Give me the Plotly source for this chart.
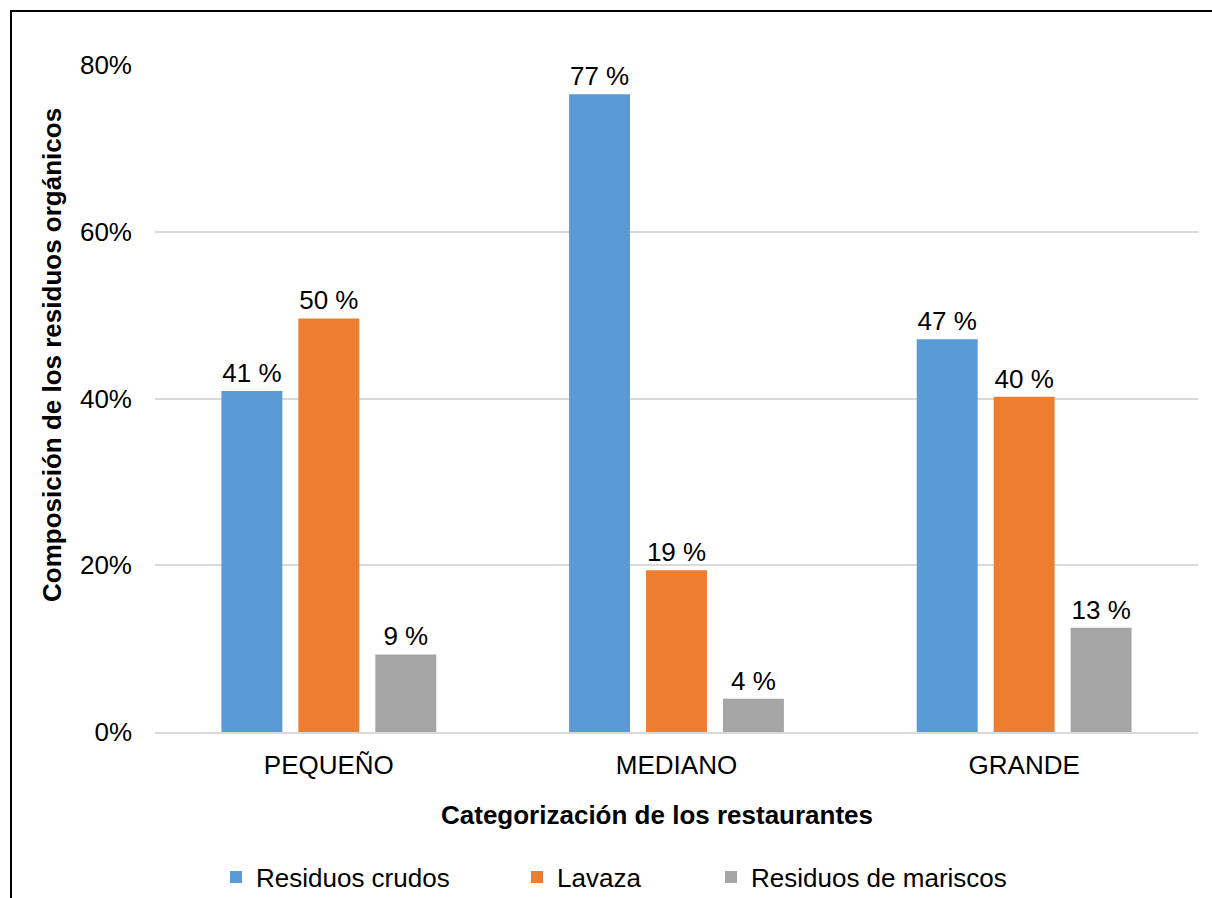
import plotly.graph_objects as go

# Restaurant size categories and composition of organic waste (%)
categorias = ["PEQUEÑO", "MEDIANO", "GRANDE"]
residuos_crudos = [40.9, 76.5, 47.1]
lavaza = [49.6, 19.4, 40.2]
residuos_mariscos = [9.3, 4.0, 12.5]

series = [
    ("Residuos crudos", residuos_crudos, "#5B9BD5"),
    ("Lavaza", lavaza, "#ED7D31"),
    ("Residuos de mariscos", residuos_mariscos, "#A5A5A5"),
]

y_ticks = [0, 20, 40, 60, 80]

W, H = 1212, 898
L, R, T, B = 155, 14, 65, 166
plot_w = W - L - R
plot_h = H - T - B
FONT = "Liberation Sans, Arial, sans-serif"
FS = 26


def px_x(px):
    return (px - L) / plot_w


def px_y(py):
    return (H - B - py) / plot_h


fig = go.Figure()
legend_keys = ["legend", "legend2", "legend3"]
legend_left_px = [216, 517, 711]

for (name, vals, color), lkey in zip(series, legend_keys):
    fig.add_trace(go.Bar(
        name=name,
        x=categorias,
        y=vals,
        marker=dict(color=color, line=dict(width=0)),
        texttemplate="%{y:.0f} %",
        textposition="outside",
        textfont=dict(family=FONT, size=FS, color="#000000"),
        cliponaxis=False,
        legend=lkey,
    ))

legend_common = dict(
    orientation="h",
    font=dict(family=FONT, size=FS, color="#000000"),
    bgcolor="rgba(0,0,0,0)",
    xanchor="left",
    yanchor="middle",
    y=px_y(877),
)

layout_legends = {}
for lkey, lx in zip(legend_keys, legend_left_px):
    layout_legends[lkey] = dict(legend_common, x=px_x(lx))

fig.update_layout(
    width=W,
    height=H,
    margin=dict(l=L, r=R, t=T, b=B, autoexpand=False),
    paper_bgcolor="#FFFFFF",
    plot_bgcolor="#FFFFFF",
    barmode="group",
    bargap=0.336,
    bargroupgap=0.208,
    showlegend=True,
    font=dict(family=FONT, size=FS, color="#000000"),
    xaxis=dict(
        showgrid=False,
        showline=True,
        linecolor="#D9D9D9",
        linewidth=2,
        ticks="",
        ticklabelstandoff=9,
        automargin=False,
        tickfont=dict(family=FONT, size=FS, color="#000000"),
    ),
    yaxis=dict(
        range=[0, 80],
        tickvals=y_ticks,
        ticktext=[f"{v}%" for v in y_ticks],
        showgrid=True,
        gridcolor="#D9D9D9",
        gridwidth=2,
        zeroline=False,
        showline=False,
        ticks="",
        ticklabelstandoff=22,
        automargin=False,
        tickfont=dict(family=FONT, size=FS, color="#000000"),
    ),
    annotations=[
        dict(
            text="<b>Composición de los residuos orgánicos</b>",
            xref="paper", yref="paper",
            x=px_x(52), y=px_y(355),
            textangle=-90, showarrow=False,
            xanchor="center", yanchor="middle",
            font=dict(family=FONT, size=FS, color="#000000"),
        ),
        dict(
            text="<b>Categorización de los restaurantes</b>",
            xref="paper", yref="paper",
            x=px_x(657), y=px_y(815),
            showarrow=False,
            xanchor="center", yanchor="middle",
            font=dict(family=FONT, size=FS, color="#000000"),
        ),
    ],
    shapes=[
        # outer frame (left and top edges)
        dict(type="line", xref="paper", yref="paper",
             x0=px_x(11), x1=px_x(11), y0=px_y(10), y1=px_y(H + 5),
             line=dict(color="#000000", width=2)),
        dict(type="line", xref="paper", yref="paper",
             x0=px_x(11), x1=px_x(W + 5), y0=px_y(11), y1=px_y(11),
             line=dict(color="#000000", width=2)),
    ],
    **layout_legends,
)

fig.write_html("out.html")
